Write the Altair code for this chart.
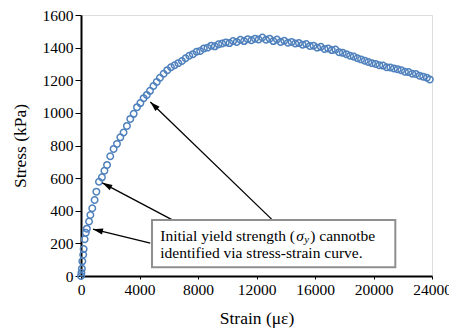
import math
import altair as alt
import pandas as pd

# ---- data ----
strain = [0, 30, 60, 90, 150, 180, 250, 330, 400, 550, 640, 770, 930, 1050, 1230,
          1430, 1600, 1780, 2000, 2230, 2460, 2690, 2910, 3140, 3370, 3600, 3830,
          4060, 4280, 4500, 4720, 4950, 5180, 5400, 5650, 5900, 6150, 6400, 6650,
          6900, 7150, 7400, 7650, 7900, 8150, 8400, 8650, 8900, 9150, 9400, 9650,
          9900, 10150, 10400, 10650, 10900, 11150, 11400, 11650, 11900, 12150,
          12400, 12650, 12900, 13150, 13400, 13650, 13900, 14150, 14400, 14650,
          14900, 15150, 15400, 15650, 15900, 16150, 16400, 16650, 16900, 17150,
          17400, 17650, 17900, 18150, 18400, 18650, 18900, 19150, 19400, 19650,
          19900, 20150, 20400, 20650, 20900, 21150, 21400, 21650, 21900, 22150,
          22400, 22650, 22900, 23150, 23400, 23650, 23850]
stress = [0, 20, 45, 90, 130, 165, 225, 265, 290, 334, 374, 415, 466, 517, 578,
          605, 645, 681, 734, 779, 810, 850, 880, 920, 963, 994, 1035,
          1060, 1090, 1110, 1135, 1165, 1190, 1215, 1240, 1262, 1280, 1292, 1305,
          1318, 1335, 1350, 1360, 1375, 1380, 1395, 1400, 1412, 1408, 1420, 1425,
          1432, 1428, 1440, 1435, 1448, 1440, 1452, 1445, 1455, 1450,
          1462, 1448, 1455, 1440, 1450, 1435, 1442, 1430, 1435, 1425,
          1428, 1418, 1422, 1410, 1412, 1400, 1405, 1392, 1395, 1385,
          1388, 1372, 1368, 1360, 1350, 1345, 1335, 1328, 1320, 1312,
          1305, 1300, 1292, 1290, 1280, 1278, 1272, 1268, 1262, 1252,
          1250, 1240, 1238, 1228, 1222, 1215, 1205]

x_ticks = [0, 4000, 8000, 12000, 16000, 20000, 24000]
y_ticks = [0, 200, 400, 600, 800, 1000, 1200, 1400, 1600]

# annotation (data units)
arrow_x_start = [13081, 6243, 4739]
arrow_y_start = [344, 344, 202]
arrow_x_end = [4739, 1456, 820]
arrow_y_end = [1067, 571, 287]

box_x = [4855, 21492]
box_y = [53, 344]
text_x = 5420
line1_y = 245
line2_y = 141

W, H = 351, 261
XMAX, YMAX = 24000, 1600
SERIF = "Liberation Serif"

df = pd.DataFrame({"strain": strain, "stress": stress})

angles = []
for xs_, ys_, xe, ye in zip(arrow_x_start, arrow_y_start, arrow_x_end, arrow_y_end):
    dx = (xe - xs_) * W / XMAX
    dy = -(ye - ys_) * H / YMAX
    angles.append((math.degrees(math.atan2(dx, -dy)) + 360) % 360)

arrows = pd.DataFrame({"strain": arrow_x_start, "stress": arrow_y_start,
                       "x2": arrow_x_end, "y2": arrow_y_end, "angle": angles})

xs = alt.Scale(domain=[0, XMAX], nice=False, zero=False)
ys = alt.Scale(domain=[0, YMAX], nice=False, zero=False)

x_axis = alt.Axis(values=x_ticks, format="d", title="Strain (με)", grid=False,
                  labelFont=SERIF, labelFontSize=15.5, labelColor="black",
                  labelOverlap=False, labelFlush=False, labelBound=False,
                  labelPadding=3, tickColor="black", tickSize=3, domainColor="black",
                  domainWidth=2, titleFont=SERIF, titleFontSize=17.5,
                  titleFontWeight="normal", titleColor="black",
                  titleY=42, titleBaseline="middle")
y_axis = alt.Axis(values=y_ticks, format="d", title="Stress (kPa)", grid=False,
                  labelFont=SERIF, labelFontSize=15.5, labelColor="black",
                  labelOverlap=False, labelFlush=False, labelBound=False,
                  labelPadding=2, tickColor="black", tickSize=6, domainColor="black",
                  domainWidth=2, titleFont=SERIF, titleFontSize=17.5,
                  titleFontWeight="normal", titleColor="black",
                  titleX=-61, titleY=H / 2, titleBaseline="middle", titleAlign="center")

X = alt.X("strain:Q", scale=xs, axis=x_axis)
Y = alt.Y("stress:Q", scale=ys, axis=y_axis)

points = alt.Chart(df).mark_point(shape="circle", filled=False, size=42,
                                  strokeWidth=1.5, color="#4f81bd", opacity=1).encode(
    x=X, y=Y)

rules = alt.Chart(arrows).mark_rule(color="black", strokeWidth=1.3).encode(
    x=X, y=Y, x2="x2:Q", y2="y2:Q")

heads = alt.Chart(arrows).mark_point(
    shape="M0,0L-0.6,2L0.6,2Z", filled=True, size=100, color="black", opacity=1
).encode(x=alt.X("x2:Q", scale=xs, axis=x_axis), y=alt.Y("y2:Q", scale=ys, axis=y_axis),
         angle=alt.Angle("angle:Q", scale=None))

box_df = pd.DataFrame({"strain": [box_x[0]], "x2": [box_x[1]],
                       "stress": [box_y[0]], "y2": [box_y[1]]})
box = alt.Chart(box_df).mark_rect(fill="white", stroke="#8f8f8f", strokeWidth=2).encode(
    x=X, x2="x2:Q", y=Y, y2="y2:Q")

txt_df = pd.DataFrame({
    "strain": [text_x] * 5,
    "stress": [line1_y, line1_y, line1_y, line1_y, line2_y],
    "t": ["Initial yield strength (", "σ", "y", ") cannotbe",
          "identified via stress-strain curve."],
    "dx": [0, 136, 144, 150, 0],
    "dy": [0, 0, 4, 0, 0],
    "fs": [15.5, 15.5, 11, 15.5, 15.5],
    "st": ["normal", "italic", "italic", "normal", "normal"],
})

def text_piece(i):
    r = txt_df.iloc[[i]]
    return alt.Chart(r).mark_text(align="left", baseline="middle", font=SERIF,
                                  fontSize=float(r["fs"].iloc[0]),
                                  fontStyle=r["st"].iloc[0],
                                  dx=float(r["dx"].iloc[0]), dy=float(r["dy"].iloc[0]),
                                  color="black").encode(
        x=X, y=Y, text="t:N")

texts = [text_piece(i) for i in range(len(txt_df))]

chart = alt.layer(points, rules, heads, box, *texts).properties(
    width=W, height=H,
    autosize=alt.AutoSizeParams(type="none"),
    padding={"left": 81, "top": 15, "right": 17, "bottom": 52},
).configure_view(stroke="#7f7f7f", strokeWidth=1.5).configure(background="white")

chart.save("out.html", embed_options={"renderer": "svg", "actions": False})
